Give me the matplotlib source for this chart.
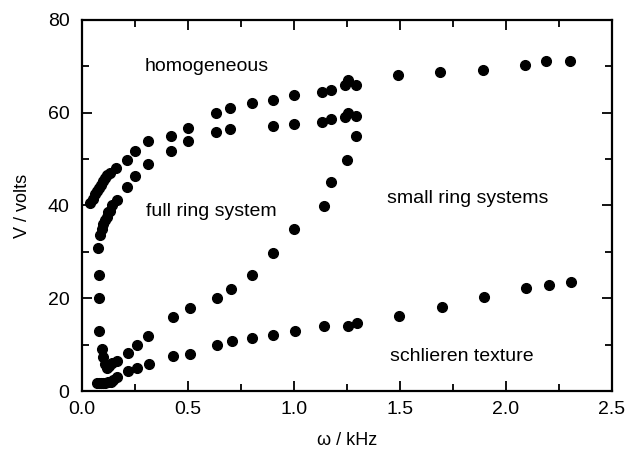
import matplotlib
matplotlib.use('Agg')
import matplotlib.pyplot as plt
from matplotlib.ticker import MultipleLocator

plt.rcParams['font.family'] = ['Liberation Sans', 'DejaVu Sans']

# boundary: homogeneous (upper row)
homog_x = [0.04, 0.05, 0.06, 0.07, 0.08, 0.09, 0.10, 0.11, 0.12, 0.13, 0.16, 0.21, 0.25,
           0.31, 0.42, 0.50, 0.63, 0.70, 0.80, 0.90, 1.00, 1.13, 1.175, 1.24, 1.255, 1.29,
           1.49, 1.69, 1.89, 2.09, 2.19, 2.30]
homog_y = [40.5, 41.5, 42.5, 43.2, 43.8, 44.5, 45.2, 45.9, 46.5, 47.0, 48.0, 49.9, 51.8,
           53.9, 55.0, 56.8, 59.9, 61.0, 62.0, 62.8, 63.9, 64.5, 65.0, 65.9, 67.0, 66.0,
           68.1, 68.7, 69.3, 70.3, 71.2, 71.2]

# boundary: full ring system
ring_x = [0.077, 0.085, 0.093, 0.10, 0.108, 0.116, 0.124, 0.132, 0.143, 0.164, 0.21, 0.25,
          0.31, 0.42, 0.50, 0.63, 0.70, 0.90, 1.00, 1.13, 1.175, 1.24, 1.255, 1.29]
ring_y = [30.9, 33.6, 35.0, 36.1, 36.8, 37.6, 38.6, 38.8, 40.1, 41.2, 44.0, 46.4,
          48.9, 51.8, 53.8, 55.9, 56.4, 57.1, 57.5, 58.0, 58.7, 59.0, 60.0, 59.3]

# boundary: small ring systems
small_x = [0.080, 0.080, 0.082, 0.093, 0.100, 0.108, 0.116, 0.128, 0.140, 0.164, 0.218, 0.258,
           0.313, 0.428, 0.509, 0.635, 0.703, 0.80, 0.90, 1.00, 1.14, 1.175, 1.25, 1.29]
small_y = [25.0, 20.0, 13.0, 9.1, 7.4, 5.8, 4.9, 5.3, 6.1, 6.5, 8.3, 9.9,
           11.9, 16.0, 18.0, 20.0, 22.0, 25.0, 29.8, 34.9, 39.9, 45.0, 49.9, 55.0]

# boundary: schlieren texture
schl_x = [0.070, 0.080, 0.090, 0.100, 0.110, 0.124, 0.135, 0.148, 0.164, 0.218, 0.258, 0.318,
          0.428, 0.509, 0.635, 0.706, 0.803, 0.90, 1.005, 1.14, 1.256, 1.296, 1.497, 1.697,
          1.898, 2.093, 2.203, 2.305]
schl_y = [1.8, 1.8, 1.8, 1.8, 1.8, 1.9, 2.0, 2.4, 3.0, 4.3, 4.9, 5.9,
          7.5, 7.9, 9.9, 10.8, 11.5, 12.0, 13.0, 14.1, 14.1, 14.6, 16.2, 18.2,
          20.3, 22.3, 22.8, 23.4]

labels = ['homogeneous', 'full ring system', 'small ring systems', 'schlieren texture']
label_x = [0.59, 0.61, 1.82, 1.79]
label_y = [70.0, 38.6, 41.6, 7.5]

fig = plt.figure(figsize=(6.28, 4.51), dpi=100)
ax = fig.add_axes([0.1306, 0.133, 0.844, 0.8227])

for xs, ys in [(homog_x, homog_y), (ring_x, ring_y), (small_x, small_y), (schl_x, schl_y)]:
    ax.plot(xs, ys, 'o', color='black', ms=7, mec='black')

for t, x, y in zip(labels, label_x, label_y):
    ax.text(x, y, t, ha='center', va='center', fontsize=14)

ax.set_xlim(0, 2.5)
ax.set_ylim(0, 80)
ax.xaxis.set_major_locator(MultipleLocator(0.5))
ax.xaxis.set_minor_locator(MultipleLocator(0.25))
ax.yaxis.set_major_locator(MultipleLocator(20))
ax.yaxis.set_minor_locator(MultipleLocator(10))
ax.xaxis.set_major_formatter(plt.FormatStrFormatter('%.1f'))
ax.tick_params(which='both', direction='in', top=True, right=True, width=1.3, labelsize=14)
ax.tick_params(which='major', length=7)
ax.tick_params(which='minor', length=5)
ax.tick_params(axis='x', which='major', pad=7)
ax.tick_params(axis='y', which='major', pad=9)
for s in ax.spines.values():
    s.set_linewidth(1.6)

ax.set_xlabel('ω / kHz', fontsize=13, labelpad=10)
ax.set_ylabel('V / volts', fontsize=13, labelpad=12)

fig.savefig('out.png', dpi=100)
